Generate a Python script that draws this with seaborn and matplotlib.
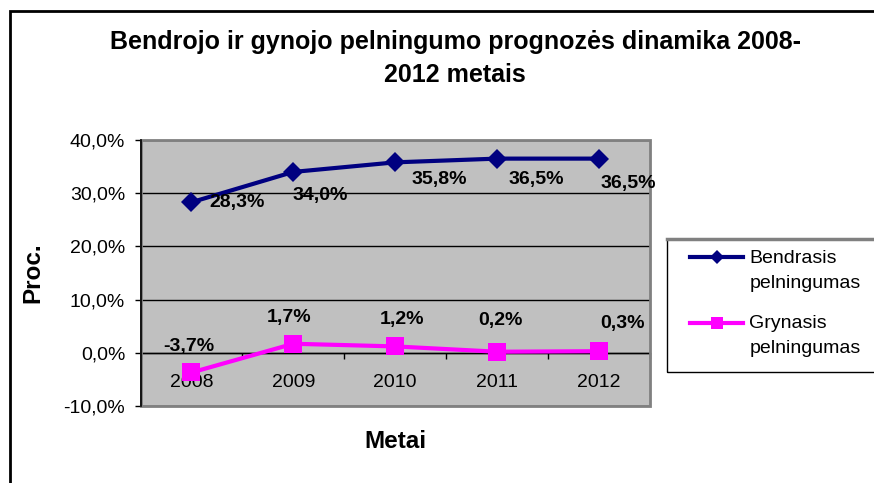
import numpy as np
import pandas as pd
import matplotlib
matplotlib.use("Agg")
import matplotlib.pyplot as plt
import seaborn as sns
from matplotlib.lines import Line2D
from matplotlib.patches import Rectangle
from matplotlib.legend_handler import HandlerLine2D
from matplotlib.ticker import FixedLocator, FuncFormatter

# --- data -----------------------------------------------------------------
years = ["2008", "2009", "2010", "2011", "2012"]
bendrasis = [28.3, 34.0, 35.8, 36.5, 36.5]
grynasis = [-3.7, 1.7, 1.2, 0.2, 0.3]
series_names = ["Bendrasis\npelningumas", "Grynasis\npelningumas"]
y_ticks = [-10, 0, 10, 20, 30, 40]

title = "Bendrojo ir gynojo pelningumo prognozės dinamika 2008-\n2012 metais"
x_title = "Metai"
y_title = "Proc."

# label offsets (pixels) relative to each point
bend_offsets = [(46, 0), (27, -24), (44, -17), (39, -21), (29, -25)]
gryn_offsets = [(-3, 26), (-4, 26), (7, 27), (3, 31), (23, 28)]

NAVY = "#000080"
MAGENTA = "#FF00FF"
PLOT_BG = "#C0C0C0"
BORDER_GRAY = "#808080"

W, H = 874, 483
plt.rcParams["font.family"] = ["Liberation Sans", "DejaVu Sans"]

fig = plt.figure(figsize=(W / 100, H / 100), dpi=100)
fig.patch.set_facecolor("white")

# axes box in pixels: left 140.5, right 650, top 140, bottom 406
ax = fig.add_axes([140.5 / W, 1 - 406 / H, (650 - 140.5) / W, (406 - 140) / H])
ax.set_facecolor(PLOT_BG)

df_b = pd.DataFrame({"Metai": years, "Proc": bendrasis})
df_g = pd.DataFrame({"Metai": years, "Proc": grynasis})

sns.lineplot(data=df_b, x="Metai", y="Proc", ax=ax, color=NAVY, linewidth=3,
             marker="D", markersize=9.8, markeredgewidth=0, markeredgecolor=NAVY,
             sort=False, zorder=5)
sns.lineplot(data=df_g, x="Metai", y="Proc", ax=ax, color=MAGENTA, linewidth=3,
             marker="s", markersize=12.6, markeredgewidth=0, markeredgecolor=MAGENTA,
             sort=False, zorder=5)

ax.set_xlim(-0.5, len(years) - 0.5)
ax.set_ylim(-10, 40)

# y axis
ax.yaxis.set_major_locator(FixedLocator(y_ticks))
ax.yaxis.set_major_formatter(FuncFormatter(lambda v, p: f"{v:.1f}%".replace(".", ",")))
ax.tick_params(axis="y", which="major", length=4, width=1, color="black",
               labelsize=14, pad=7, direction="out")
ax.yaxis.grid(True, color="black", linewidth=1)
ax.set_axisbelow(True)

# x axis sits on the zero line, labels centred on categories,
# tick marks on the category boundaries
ax.spines["bottom"].set_position(("data", 0))
ax.spines["bottom"].set_color("black")
ax.spines["bottom"].set_linewidth(1)
ax.set_xticks(range(len(years)))
ax.set_xticklabels(years)
ax.set_xticks(np.arange(-0.5, len(years)), minor=True)
ax.tick_params(axis="x", which="major", length=0, labelsize=14, pad=15)
ax.tick_params(axis="x", which="minor", length=4, width=1, color="black", direction="out")

for s in ["top", "right"]:
    ax.spines[s].set_visible(False)
ax.spines["left"].set_color("black")
ax.spines["left"].set_linewidth(1.2)
ax.spines["left"].set_zorder(6)

# gray border round the plot area
ax.add_patch(Rectangle((0, 0), 1, 1, transform=ax.transAxes, fill=False,
                       edgecolor=BORDER_GRAY, linewidth=2, clip_on=False, zorder=4))

ax.set_xlabel("")
ax.set_ylabel("")

# value labels
for i, (v, off) in enumerate(zip(bendrasis, bend_offsets)):
    ax.annotate(f"{v:.1f}%".replace(".", ","), xy=(i, v), xytext=off,
                textcoords="offset pixels", ha="center", va="center",
                fontsize=14, fontweight="bold", zorder=7)
for i, (v, off) in enumerate(zip(grynasis, gryn_offsets)):
    ax.annotate(f"{v:.1f}%".replace(".", ","), xy=(i, v), xytext=off,
                textcoords="offset pixels", ha="center", va="center",
                fontsize=14, fontweight="bold", zorder=7)

# titles
fig.text(455 / W, 1 - 58.5 / H, title, ha="center", va="center", fontsize=18,
         fontweight="bold", linespacing=1.45)
fig.text(395 / W, 1 - 441 / H, x_title, ha="center", va="center", fontsize=17.5,
         fontweight="bold")
fig.text(33 / W, 1 - 273 / H, y_title, ha="center", va="center", fontsize=17.5,
         fontweight="bold", rotation=90)

# outer chart frame
fig.add_artist(Rectangle((9.5 / W, -0.2), 1.2, 1.2 - 11 / H, transform=fig.transFigure,
                         fill=False, edgecolor="black", linewidth=2, clip_on=False))

# legend box
fig.add_artist(Rectangle((667 / W, 1 - 372 / H), 240 / W, (372 - 239) / H,
                         transform=fig.transFigure, fill=False, edgecolor="black",
                         linewidth=1))
fig.add_artist(Line2D([667 / W, 1.0], [1 - 239 / H] * 2, transform=fig.transFigure,
                      color=BORDER_GRAY, linewidth=2.5))


class FirstLineHandler(HandlerLine2D):
    """Places the legend line level with the first line of a two-line label."""

    def __init__(self, shift, **kw):
        super().__init__(**kw)
        self.shift = shift

    def create_artists(self, legend, orig_handle, xdescent, ydescent, width,
                       height, fontsize, trans):
        artists = super().create_artists(legend, orig_handle, xdescent, ydescent,
                                         width, height, fontsize, trans)
        for a in artists:
            a.set_ydata(np.asarray(a.get_ydata(), dtype=float) + self.shift)
        return artists


h_b = Line2D([], [], color=NAVY, linewidth=3, marker="D", markersize=7, markeredgewidth=0)
h_g = Line2D([], [], color=MAGENTA, linewidth=3, marker="s", markersize=8, markeredgewidth=0)
shift = 9.5
leg = fig.legend([h_b, h_g], series_names, loc="upper left",
                 bbox_to_anchor=(690 / W, 1 - 250 / H), frameon=False,
                 fontsize=14, handlelength=2.75, handletextpad=0.3,
                 labelspacing=1.2, borderpad=0, borderaxespad=0, numpoints=1,
                 handler_map={h_b: FirstLineHandler(shift), h_g: FirstLineHandler(shift)})
for t in leg.get_texts():
    t.set_linespacing(1.6)

fig.savefig("out.png", dpi=100)
